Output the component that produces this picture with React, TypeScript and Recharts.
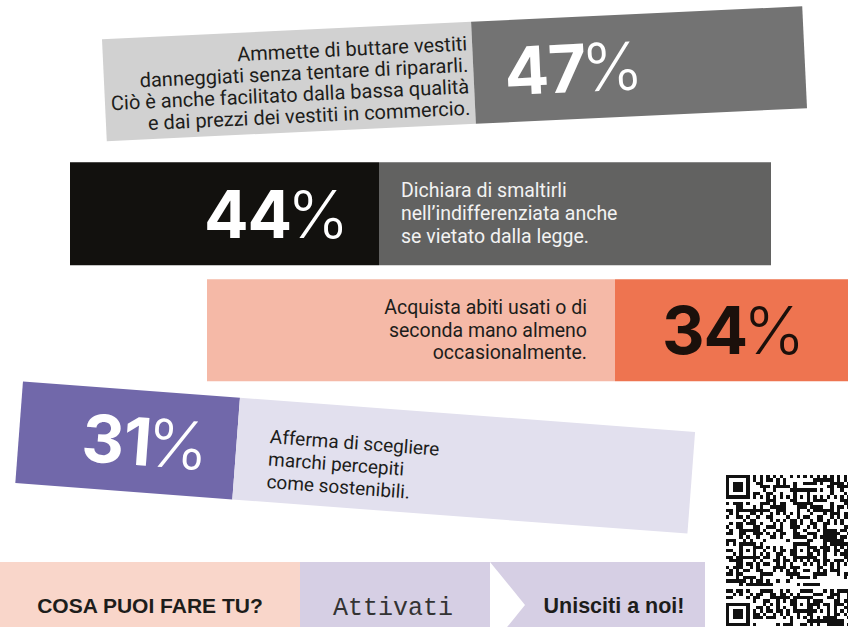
import React from 'react';
import { BarChart, Bar, XAxis, YAxis, Customized } from 'recharts';

// ---------- data ----------
const categories = [
  'Butta vestiti danneggiati',
  'Smaltisce nell’indifferenziata',
  'Acquista usato',
  'Sceglie marchi sostenibili',
];
const values = [47, 44, 34, 31];
const statements = [
  [
    'Ammette di buttare vestiti',
    'danneggiati senza tentare di ripararli.',
    'Ciò è anche facilitato dalla bassa qualità',
    'e dai prezzi dei vestiti in commercio.',
  ],
  ['Dichiara di smaltirli', 'nell’indifferenziata anche', 'se vietato dalla legge.'],
  ['Acquista abiti usati o di', 'seconda mano almeno', 'occasionalmente.'],
  ['Afferma di scegliere', 'marchi percepiti', 'come sostenibili.'],
];
const footerLabels = ['COSA PUOI FARE TU?', 'Attivati', 'Unisciti a noi!'];

const chartData = categories.map((c, i) => ({ category: c, value: values[i], lines: statements[i] }));

// ---------- layout / style (not data) ----------
type BandStyle = {
  cx: number; dy: number; w: number; h: number; angle: number; split: number;
  left: string; right: string;
  numAnchor: 'start' | 'end'; numX: number; numColor: string;
  txtAnchor: 'start' | 'end'; txtX: number; txtColor: string; gap: number; off: number; fs: number;
};
const bandStyles: BandStyle[] = [
  { cx: 454.5, dy: -0.3, w: 701, h: 102, angle: -2.7, split: 19, left: '#d1d1d1', right: '#737373',
    numAnchor: 'start', numX: 50, numColor: '#ffffff', txtAnchor: 'end', txtX: 14, txtColor: '#1d1d1b', gap: 21.5, off: 3, fs: 20 },
  { cx: 420.5, dy: 12.25, w: 701, h: 103, angle: 0, split: -41.5, left: '#12110e', right: '#626261',
    numAnchor: 'end', numX: -71.5, numColor: '#ffffff', txtAnchor: 'start', txtX: -19.5, txtColor: '#f2f2f2', gap: 23, off: 0, fs: 19.5 },
  { cx: 527.5, dy: 1.25, w: 641, h: 102, angle: 0, split: 87.5, left: '#f5b9a7', right: '#ee7450',
    numAnchor: 'start', numX: 134.5, numColor: '#1b100b', txtAnchor: 'end', txtX: 59.5, txtColor: '#1d1d1b', gap: 22.5, off: 0, fs: 19.5 },
  { cx: 355.2, dy: 1, w: 674, h: 102, angle: 4.3, split: -119.4, left: '#7168aa', right: '#e2e0ee',
    numAnchor: 'end', numX: -147, numColor: '#ffffff', txtAnchor: 'start', txtX: -86.5, txtColor: '#1d1d1b', gap: 22.5, off: 8, fs: 19 },
];

const TEXT_FONT = 'Roboto, "Liberation Sans", sans-serif';
const NUM_FONT = 'Inter, "Noto Sans", sans-serif';
const BOLD_FONT = '"Liberation Sans", Arial, sans-serif';

const Band = (props: any) => {
  const { y, height, index, payload } = props;
  const s = bandStyles[index];
  const cy = y + height / 2 + s.dy;
  const lines: string[] = payload.lines;
  const n = lines.length;
  return (
    <g transform={`translate(${s.cx},${cy}) rotate(${s.angle})`}>
      <rect x={-s.w / 2} y={-s.h / 2} width={s.w / 2 + s.split} height={s.h} fill={s.left} />
      <rect x={s.split} y={-s.h / 2} width={s.w / 2 - s.split} height={s.h} fill={s.right} />
      <text x={s.numX} y={24} textAnchor={s.numAnchor} fontFamily={NUM_FONT} fontSize={66} fill={s.numColor}>
        <tspan fontWeight={700} letterSpacing={-1}>{payload.value}</tspan>
        <tspan fontWeight={300} dx={-4}>%</tspan>
      </text>
      {lines.map((l, i) => (
        <text key={i} x={s.txtX} y={s.off + (i - (n - 1) / 2) * s.gap + 6.5} textAnchor={s.txtAnchor}
          fontFamily={TEXT_FONT} fontSize={s.fs} fill={s.txtColor}>
          {l}
        </text>
      ))}
    </g>
  );
};

const Footer = () => (
  <g>
    <rect x={0} y={562} width={300} height={70} fill="#f9d6ca" />
    <rect x={300} y={562} width={405} height={70} fill="#d6cfe4" />
    <polygon points="490,562 525,605 490,648" fill="#ffffff" />
    <text x={150} y={613} textAnchor="middle" fontFamily={BOLD_FONT} fontWeight={700} fontSize={21} fill="#1d1d1b">
      {footerLabels[0]}
    </text>
    <text x={393} y={615} textAnchor="middle" fontFamily='"Liberation Mono", "DejaVu Sans Mono", monospace' fontSize={25} fill="#333333">
      {footerLabels[1]}
    </text>
    <text x={614} y={613} textAnchor="middle" fontFamily={BOLD_FONT} fontWeight={700} fontSize={21.5} fill="#1d1d1b">
      {footerLabels[2]}
    </text>
  </g>
);

// decorative QR-like code (deterministic pattern, not data)
const QR_N = 45;
const QR_M = 3.36;
const QR_X = 726;
const QR_Y = 475;
const qrModule = (r: number, c: number): boolean => {
  const finder = (r0: number, c0: number) => {
    const dr = r - r0, dc = c - c0;
    if (dr < -1 || dr > 7 || dc < -1 || dc > 7) return null;
    if (dr === -1 || dr === 7 || dc === -1 || dc === 7) return false;
    if (dr === 0 || dr === 6 || dc === 0 || dc === 6) return true;
    if (dr === 1 || dr === 5 || dc === 1 || dc === 5) return false;
    return true;
  };
  for (const [r0, c0] of [[0, 0], [0, 38], [38, 0]]) {
    const f = finder(r0, c0);
    if (f !== null) return f;
  }
  const al = [6, 22, 38];
  for (const ar of al) for (const ac of al) {
    if ((ar === 6 && ac === 6) || (ar === 6 && ac === 38) || (ar === 38 && ac === 6)) continue;
    const dr = Math.abs(r - ar), dc = Math.abs(c - ac);
    if (dr <= 2 && dc <= 2) return Math.max(dr, dc) !== 1;
  }
  if (r === 6) return c % 2 === 0;
  if (c === 6) return r % 2 === 0;
  const h = (r * 73 + c * 151 + ((r * c) % 13) * 37 + (r ^ c) * 11) % 19;
  return h < 9;
};
const QRCode = () => {
  let d = '';
  for (let r = 0; r < QR_N; r++) {
    for (let c = 0; c < QR_N; c++) {
      const x = QR_X + c * QR_M;
      if (x >= 848) continue;
      if (qrModule(r, c)) {
        d += `M${x.toFixed(2)},${(QR_Y + r * QR_M).toFixed(2)}h${QR_M}v${QR_M}h-${QR_M}z`;
      }
    }
  }
  return <path d={d} fill="#111111" shapeRendering="crispEdges" />;
};

export default function App() {
  return (
    <div style={{ width: 848, height: 627, background: '#ffffff' }}>
      <style>{'body{margin:0;}'}</style>
      <BarChart
        width={848}
        height={627}
        data={chartData}
        layout="vertical"
        margin={{ top: 10, right: 0, bottom: 107, left: 0 }}
        barCategoryGap={0}
      >
        <XAxis type="number" domain={[0, 100]} hide />
        <YAxis type="category" dataKey="category" hide />
        <Customized component={Footer} />
        <Customized component={QRCode} />
        <Bar dataKey="value" barSize={102} isAnimationActive={false} shape={(p: any) => <Band {...p} />} />
      </BarChart>
    </div>
  );
}
